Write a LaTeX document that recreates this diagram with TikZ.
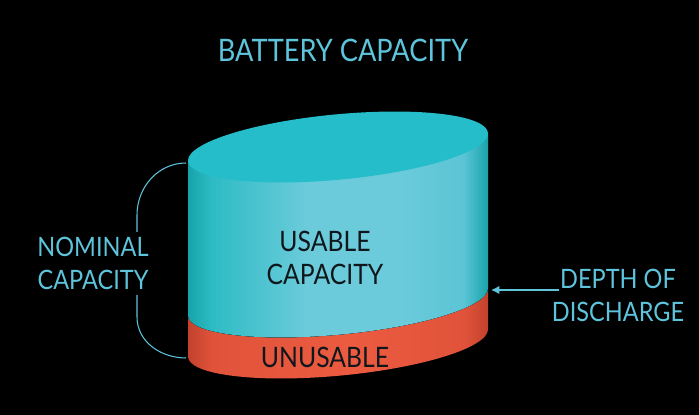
\documentclass[tikz,border=0pt]{standalone}
\usepackage{fontspec}
\setmainfont{Lato}
\newfontfamily\capfont[FakeStretch=0.88]{Lato}
\usetikzlibrary{arrows.meta}

\definecolor{capblue}{HTML}{5EC4DC}
\definecolor{capink}{HTML}{10171C}
\definecolor{topcyan}{HTML}{24BDC9}
\definecolor{cyanedge}{HTML}{17A3AA}
\definecolor{cyanside}{HTML}{2DBCC4}
\definecolor{cyanmid}{HTML}{6CCBDB}
\definecolor{cyanright}{HTML}{5AC4D5}
\definecolor{redge}{HTML}{C2412D}
\definecolor{rside}{HTML}{E0533A}
\definecolor{rmid}{HTML}{EC5B40}

\pgfdeclarehorizontalshading{usableshade}{100bp}{color(0bp)=(cyanedge); color(25bp)=(cyanedge);
  color(29bp)=(cyanside); color(45bp)=(cyanmid); color(60bp)=(cyanmid); color(71bp)=(cyanright); color(75bp)=(cyanedge); color(100bp)=(cyanedge)}
\pgfdeclarehorizontalshading{unusableshade}{100bp}{color(0bp)=(redge); color(25bp)=(redge);
  color(29bp)=(rside); color(52bp)=(rmid); color(71bp)=(rside); color(75bp)=(redge); color(100bp)=(redge)}

\begin{document}
\begin{tikzpicture}[x=0.025cm, y=0.025cm,
  caption/.style={text=capblue, font=\capfont\fontsize{19}{23.4}\selectfont, align=center},
  inlabel/.style={text=capink, font=\capfont\fontsize{20}{24}\selectfont, align=center},
  brace/.style={draw=capblue, line width=0.75pt},
  pointer/.style={draw=capblue, line width=0.8pt, -{Latex[length=6pt, width=6pt]}}]

  \fill[black] (0,0) rectangle (699,415);

  \node[caption, font=\capfont\fontsize{22}{24}\selectfont] (title) at (343,365) {BATTERY CAPACITY};

  % battery cylinder
  \begin{scope}[shift={(338,0)}, yslant=0.09]
    \fill[shading=unusableshade] (-150,113) -- (-150,72)
      arc[start angle=180, end angle=360, x radius=150, y radius=32.8] -- (150,113)
      arc[start angle=0, end angle=-180, x radius=150, y radius=32.8] -- cycle;
    \fill[shading=usableshade] (-150,268) -- (-150,113)
      arc[start angle=180, end angle=360, x radius=150, y radius=32.8] -- (150,268) -- cycle;
    \fill[topcyan] (0,268) ellipse[x radius=150, y radius=32.8];
  \end{scope}

  \node[inlabel] (usable) at (325,157) {USABLE\\CAPACITY};
  \node[inlabel] (unusable) at (325,58) {UNUSABLE};

  \node[caption] (nominal) at (93,152) {NOMINAL\\CAPACITY};
  \node[caption] (depth) at (618,120) {DEPTH OF\\DISCHARGE};

  \coordinate (nomtop) at (186,252);
  \coordinate (nomupper) at (137,183);
  \coordinate (nomlower) at (137,120);
  \coordinate (nombot) at (186,57);
  \draw[brace] (nomtop) to[out=180, in=90] (137,200) -- (nomupper);
  \draw[brace] (nomlower) -- (137,98) to[out=-90, in=180] (nombot);

  \coordinate (dodtail) at (559,125);
  \coordinate (dodmark) at (491,125);
  \draw[pointer] (dodtail) -- (dodmark);
\end{tikzpicture}
\end{document}
